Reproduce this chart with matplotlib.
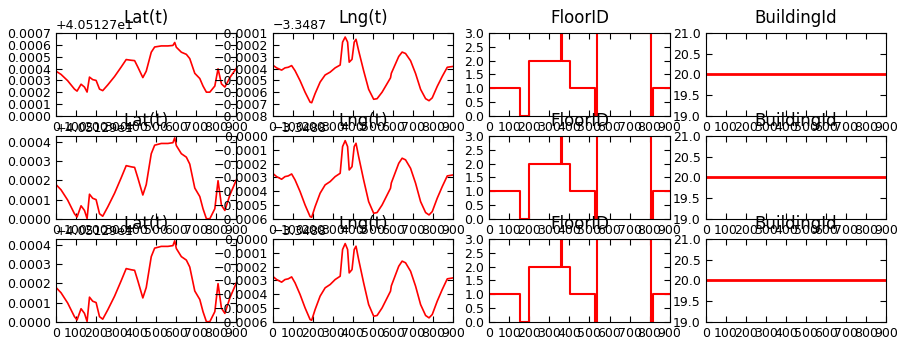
import matplotlib

matplotlib.use("Agg")

import matplotlib.pyplot as plt
from matplotlib.ticker import MultipleLocator, ScalarFormatter

# sample index of the readings picked off the traces
lat_t = [0, 25, 58, 92, 105, 125, 142, 155, 167, 183, 200, 217, 233, 258, 292, 325, 350,
         375, 392, 408, 433, 450, 475, 492, 525, 558, 583, 592, 600, 625, 650, 667, 692,
         717, 733, 750, 767, 792, 808, 825, 842, 867, 900]
# latitude minus 40.5129
lat_rel = [0.000178, 0.000151, 0.000098, 0.000027, 0.000010, 0.000068, 0.000044, 0.000002,
           0.000128, 0.000107, 0.000100, 0.000027, 0.000014, 0.000062, 0.000133, 0.000213,
           0.000276, 0.000270, 0.000267, 0.000213, 0.000124, 0.000178, 0.000338, 0.000382,
           0.000391, 0.000391, 0.000395, 0.000420, 0.000380, 0.000338, 0.000320, 0.000284,
           0.000160, 0.000116, 0.000053, 0.000001, 0.000001, 0.000053, 0.000198, 0.000071,
           0.000044, 0.000124, 0.000204]

lng_t = [0, 20, 45, 62, 78, 95, 112, 137, 162, 187, 195, 212, 237, 262, 287, 312, 337,
         349, 362, 374, 382, 396, 407, 416, 429, 454, 479, 504, 521, 546, 571, 588, 592,
         604, 629, 646, 663, 688, 713, 738, 763, 780, 796, 821, 846, 871, 900]
# longitude minus -3.3488
lng_rel = [-0.000270, -0.000294, -0.000313, -0.000294, -0.000289, -0.000275, -0.000318,
           -0.000402, -0.000499, -0.000583, -0.000588, -0.000511, -0.000414, -0.000354,
           -0.000330, -0.000294, -0.000270, -0.000077, -0.000034, -0.000077, -0.000246,
           -0.000222, -0.000077, -0.000053, -0.000149, -0.000318, -0.000475, -0.000559,
           -0.000554, -0.000499, -0.000427, -0.000378, -0.000340, -0.000294, -0.000198,
           -0.000161, -0.000173, -0.000234, -0.000342, -0.000475, -0.000554, -0.000571,
           -0.000547, -0.000450, -0.000366, -0.000289, -0.000282]

floor_t = [0, 155, 200, 360, 363, 405, 526, 540, 806, 818, 900]
floor_v = [1, 0, 2, 3, 2, 1, 0, 3, 0, 1, 1]

bldg_t = [0, 900]
bldg_v = [20, 20]

LAT_BASE = 40.5129
LNG_BASE = -3.3488

# per row: axis offset and limits relative to that offset
lat_offsets = [40.5127, 40.5129, 40.5129]
lat_limits = [(0.0, 0.0007), (0.0, 0.00043), (0.0, 0.00043)]
lng_offsets = [-3.3487, -3.3488, -3.3488]
lng_limits = [(-0.0008, -0.0001), (-0.0006, 0.0), (-0.0006, 0.0)]

titles = ["Lat(t)", "Lng(t)", "FloorID", "BuildingId"]

plt.rcParams["font.family"] = ["Liberation Sans Narrow", "DejaVu Sans"]
plt.rcParams["xtick.labelsize"] = 9
plt.rcParams["ytick.labelsize"] = 9

fig, axes = plt.subplots(3, 4, figsize=(9.09, 3.51), dpi=100)
fig.subplots_adjust(left=0.0616, right=0.975, top=0.906, bottom=0.083, wspace=0.2, hspace=0.24)

for row in range(3):
    ax_lat, ax_lng, ax_floor, ax_bldg = axes[row]

    ax_lat.plot(lat_t, [LAT_BASE + v for v in lat_rel], color="r", lw=1.2)
    off = lat_offsets[row]
    ax_lat.set_ylim(off + lat_limits[row][0], off + lat_limits[row][1])
    ax_lat.yaxis.set_major_formatter(ScalarFormatter(useOffset=off))
    ax_lat.yaxis.set_major_locator(MultipleLocator(0.0001))

    ax_lng.plot(lng_t, [LNG_BASE + v for v in lng_rel], color="r", lw=1.2)
    off = lng_offsets[row]
    ax_lng.set_ylim(off + lng_limits[row][0], off + lng_limits[row][1])
    ax_lng.yaxis.set_major_formatter(ScalarFormatter(useOffset=off))
    ax_lng.yaxis.set_major_locator(MultipleLocator(0.0001))

    ax_floor.plot(floor_t, floor_v, color="r", lw=1.5, drawstyle="steps-post")
    ax_floor.set_ylim(0, 3)
    ax_floor.yaxis.set_major_locator(MultipleLocator(0.5))
    ax_floor.yaxis.set_major_formatter(plt.FormatStrFormatter("%.1f"))

    ax_bldg.plot(bldg_t, bldg_v, color="r", lw=2)
    ax_bldg.set_ylim(19, 21)
    ax_bldg.yaxis.set_major_locator(MultipleLocator(0.5))
    ax_bldg.yaxis.set_major_formatter(plt.FormatStrFormatter("%.1f"))

    for ax, title in zip(axes[row], titles):
        ax.set_xlim(0, 900)
        ax.xaxis.set_major_locator(MultipleLocator(100))
        # fixed y keeps the title level with the offset text, as in the old layout
        ax.set_title(title, fontsize=12, y=1.0, pad=7)
        ax.tick_params(direction="in", top=True, right=True, length=4, width=0.8)
        ax.yaxis.get_offset_text().set_fontsize(9)

fig.savefig("out.png", dpi=100)
